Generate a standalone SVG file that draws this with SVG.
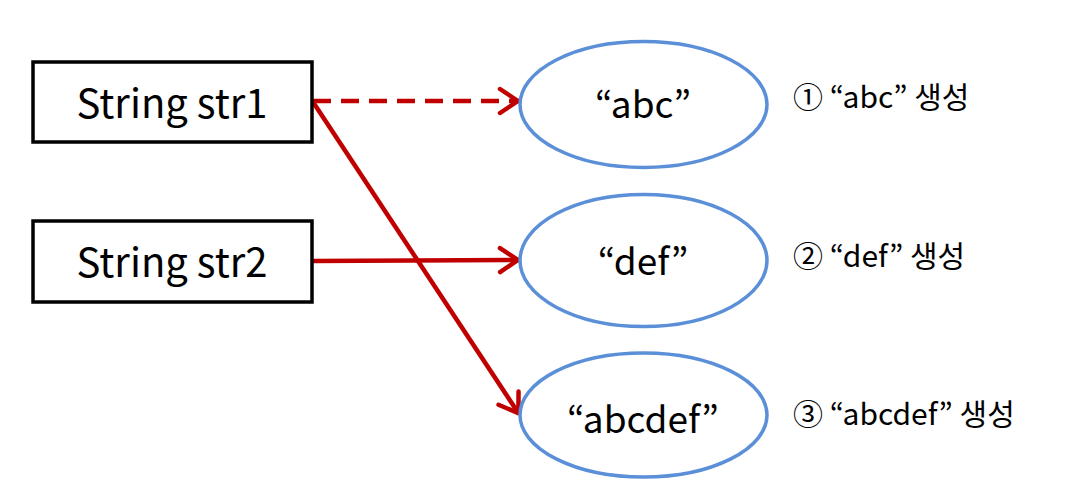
<svg xmlns="http://www.w3.org/2000/svg" width="1077" height="499" viewBox="0 0 1077 499">
<style>
.box{fill:#fff;stroke:#000;stroke-width:3.5}
.ell{fill:#fff;stroke:#5B8FD8;stroke-width:3.5}
.t{font-family:"Noto Sans CJK KR","Open Sans",sans-serif;fill:#000;text-anchor:middle}
.big{font-size:37px}
.bx{font-size:40px}
.lbl{font-family:"Noto Sans CJK KR","Open Sans",sans-serif;font-size:30px;fill:#000}
.c{fill:none;stroke:#C00000;stroke-width:4.5}
</style>
<defs>
<marker id="ah" viewBox="0 0 24 30" refX="22" refY="15" markerWidth="24" markerHeight="30" markerUnits="userSpaceOnUse" orient="auto">
<path d="M3,3 L21,15 L3,27" fill="none" stroke="#C00000" stroke-width="4.5" stroke-linecap="round" stroke-linejoin="round"/>
</marker>
</defs>
<rect width="1077" height="499" fill="#fff"/>
<g id="connectors">
<line class="c" x1="313" y1="101" x2="519" y2="101" stroke-dasharray="18,10" marker-end="url(#ah)"/>
<line class="c" x1="313" y1="261" x2="519" y2="260" marker-end="url(#ah)"/>
<line class="c" x1="313" y1="102" x2="519" y2="414" marker-end="url(#ah)"/>
</g>
<g id="str1">
<rect class="box" x="33" y="62" width="279" height="80"/>
<text class="t bx" x="172" y="118">String str1</text>
</g>
<g id="str2">
<rect class="box" x="33" y="221" width="279" height="81"/>
<text class="t bx" x="172" y="277">String str2</text>
</g>
<g id="abc">
<ellipse class="ell" cx="643.5" cy="104.5" rx="123.5" ry="63"/>
<text class="t big" x="643" y="118">“abc”</text>
</g>
<g id="def">
<ellipse class="ell" cx="643.5" cy="260.5" rx="123.5" ry="66"/>
<text class="t big" x="643" y="275">“def”</text>
</g>
<g id="abcdef">
<ellipse class="ell" cx="643.5" cy="415" rx="123.5" ry="62"/>
<text class="t big" x="643" y="433">“abcdef”</text>
</g>
<g id="labels">
<text class="lbl" x="793" y="108">① “abc” 생성</text>
<text class="lbl" x="793" y="267">② “def” 생성</text>
<text class="lbl" x="793" y="425">③ “abcdef” 생성</text>
</g>
</svg>
